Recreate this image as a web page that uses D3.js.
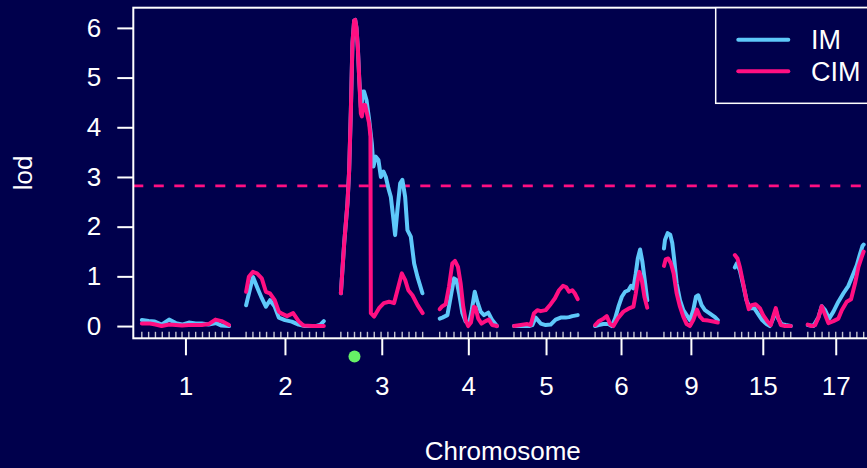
<!DOCTYPE html>
<html>
<head>
<meta charset="utf-8">
<script src="https://cdn.jsdelivr.net/npm/d3@7"></script>
<style>
  html, body { margin: 0; padding: 0; background: #00004c; }
  svg { display: block; }
  text { font-family: "Liberation Sans", Arial, Helvetica, sans-serif; fill: #ffffff; }
</style>
</head>
<body>
<svg id="chart" width="867" height="468"></svg>
<script>
// Genome scan: LOD profiles from interval mapping (IM) and composite interval mapping (CIM)
const chromosomes = ["1", "2", "3", "4", "5", "6", "9", "15", "17"];

// Marker positions (cM) on each chromosome
const markers = {
  "1":  [0, 10, 20, 30, 40, 50, 59, 69, 79, 89, 99, 108, 118, 128],
  "2":  [0, 10, 20, 30, 41, 51, 61, 72, 82, 93, 103, 114],
  "3":  [0, 10, 20, 29, 39, 49, 59, 69, 79, 90, 100, 110, 120],
  "4":  [0, 10, 21, 31, 42, 52, 63, 74, 84],
  "5":  [0, 10, 21, 31, 41, 52, 62, 72, 83, 94],
  "6":  [0, 10, 19, 29, 38, 48, 57, 67, 76],
  "9":  [0, 10, 20, 29, 39, 50, 59, 69, 79],
  "15": [0, 10, 20, 30, 41, 51, 61, 72, 82],
  "17": [0, 10, 21, 31, 41, 51, 62, 72, 82]
};

// IM profile: [position (cM), LOD]
const imLod = {
  "1":  [[0,0.12],[10,0.10],[19,0.09],[29,0.03],[40,0.13],[50,0.06],[59,0.03],[69,0.07],[79,0.05],[88,0.05],[98,0.03],[109,0.06],[117,0.01],[128,0.0]],
  "2":  [[0,0.42],[10,0.99],[18,0.72],[23,0.56],[29,0.39],[35,0.52],[42,0.39],[48,0.17],[57,0.12],[67,0.09],[77,0.03],[86,0.0],[102,0.0],[109,0.03],[114,0.10]],
  "3":  [[0,0.66],[4.9,1.67],[9.7,2.47],[12.2,3.14],[14.7,4.35],[17,5.7],[19.5,6.15],[21,6.16],[22.9,6.0],[24.9,5.6],[26.8,5.02],[29.3,4.4],[30.8,4.5],[32.3,4.72],[34,4.72],[37.6,4.55],[41.5,4.15],[45.4,3.68],[47.8,3.21],[51.2,3.41],[55.1,3.34],[58.7,3.0],[62.5,3.11],[66,3.0],[69.8,2.77],[73.3,2.6],[76.7,2.2],[79.6,1.83],[83,2.34],[87,2.87],[90.3,2.94],[94.3,2.6],[97.7,1.93],[102.6,1.8],[107.5,1.26],[112.4,0.99],[119.7,0.66]],
  "4":  [[0,0.15],[3.9,0.17],[11.3,0.22],[16.2,0.59],[21,0.96],[24.5,0.93],[28.4,0.66],[33.3,0.26],[38,0.09],[43,0.05],[47,0.32],[51.4,0.69],[55.2,0.49],[60.1,0.29],[65,0.22],[71.3,0.27],[77,0.12],[84,0.0]],
  "5":  [[0,0.0],[12,0.0],[22,0.0],[26.9,0.02],[31.8,0.17],[39.2,0.05],[46.5,0.02],[53.8,0.03],[61.1,0.13],[68.5,0.17],[75.8,0.17],[80.7,0.18],[85.6,0.20],[93.5,0.22]],
  "6":  [[0,0.0],[4.9,0.02],[12.2,0.04],[19.5,0.04],[24.5,0.0],[29.3,0.15],[34.2,0.39],[39.2,0.59],[44,0.69],[48.9,0.72],[52.8,0.81],[56.2,0.76],[59.7,1.06],[62.6,1.36],[66,1.54],[69.4,1.29],[73.4,0.86],[76.5,0.52]],
  "9":  [[0,1.56],[1.5,1.73],[5.4,1.87],[9.2,1.84],[12.2,1.67],[15.1,1.33],[18.6,0.86],[23.5,0.52],[28.4,0.32],[33.3,0.22],[38.1,0.12],[43,0.32],[47,0.59],[50.3,0.62],[55.2,0.42],[60.1,0.32],[67.5,0.25],[74.8,0.18],[79,0.12]],
  "15": [[0,1.18],[2.9,1.26],[7.3,1.12],[12.2,0.83],[17.1,0.52],[22,0.36],[28.4,0.36],[34.2,0.24],[40.1,0.12],[46.5,0.04],[51.4,0.0],[56.2,0.15],[60.1,0.32],[63.5,0.15],[68.5,0.04],[74.4,0.02],[82,0.0]],
  "17": [[0,0.02],[8.3,0.0],[15.6,0.18],[20.5,0.40],[25.4,0.32],[31.3,0.15],[37.6,0.29],[44.9,0.49],[52.3,0.66],[59.6,0.81],[67,1.06],[72,1.23],[76.8,1.46],[80.2,1.61],[82,1.64]]
};

// CIM profile: [position (cM), LOD]
const cimLod = {
  "1":  [[0,0.05],[12,0.05],[20,0.03],[29,0.0],[40,0.03],[50,0.02],[59,0.01],[69,0.02],[78,0.02],[88,0.02],[98,0.04],[108,0.13],[117,0.10],[128,0.02]],
  "2":  [[0,0.69],[4,0.99],[10,1.09],[16,1.06],[23,0.96],[29,0.69],[35,0.66],[42,0.52],[48,0.29],[51,0.26],[60,0.20],[69,0.26],[77,0.10],[84,0.01],[97,0.0],[114,0.0]],
  "3":  [[0,0.66],[4.9,1.67],[9.7,2.47],[12.2,3.14],[14.7,4.35],[17,5.7],[19.5,6.15],[21,6.16],[22.9,6.0],[24.9,5.6],[26.8,5.02],[29.3,4.28],[30.8,4.22],[33.2,4.45],[35.6,4.45],[38,4.3],[41.5,4.08],[43.4,3.82],[44,0.26],[48.8,0.19],[56,0.36],[63,0.46],[70.6,0.49],[78,0.46],[83,0.72],[89.4,1.06],[94.3,0.93],[99,0.72],[105,0.62],[112.5,0.42],[120,0.26]],
  "4":  [[0,0.34],[3.9,0.40],[8.8,0.44],[13.6,0.79],[18.5,1.26],[22.4,1.31],[26.8,1.19],[30.7,0.86],[34.5,0.39],[38,0.12],[41.8,0.0],[45.8,0.07],[50.2,0.39],[52.6,0.37],[56.5,0.15],[61.4,0.05],[67.3,0.10],[72.1,0.13],[77,0.02],[84,0.0]],
  "5":  [[0,0.0],[9.8,0.02],[19.5,0.04],[24.5,0.02],[29.3,0.26],[34.2,0.32],[39.2,0.30],[46.5,0.32],[53.8,0.44],[60.1,0.56],[66,0.72],[71.9,0.81],[76.7,0.78],[80.7,0.69],[85.6,0.72],[89.1,0.66],[93.5,0.54]],
  "6":  [[0,0.02],[4.9,0.09],[12.2,0.15],[17.1,0.20],[22,0.04],[26.9,0.0],[34.2,0.17],[41.5,0.29],[48.9,0.35],[56.2,0.39],[59.7,0.66],[62.6,0.93],[65,1.09],[68.5,0.93],[72.3,0.59],[76.5,0.37]],
  "9":  [[0,1.21],[2.5,1.34],[6.3,1.36],[10.3,1.26],[14.2,1.06],[18.6,0.66],[23.5,0.39],[28.4,0.19],[33.3,0.04],[38.1,0.0],[43,0.12],[48.4,0.33],[52.8,0.19],[57.7,0.12],[65,0.11],[72.3,0.09],[79,0.07]],
  "15": [[0,1.43],[3.9,1.36],[7.3,1.19],[12.2,0.86],[17.1,0.52],[20.5,0.34],[24.5,0.42],[30.4,0.44],[36.7,0.36],[41.5,0.22],[48,0.09],[52.8,0.02],[56.2,0.19],[60.1,0.36],[63.5,0.17],[67.5,0.02],[73.4,0.0],[82,0.0]],
  "17": [[0,0.03],[5.9,0.0],[10.7,0.02],[15.6,0.17],[20.5,0.40],[24.4,0.26],[30.2,0.06],[37.6,0.10],[44.9,0.15],[49.9,0.32],[57.2,0.49],[63.5,0.54],[69.4,0.86],[74.3,1.19],[79.2,1.39],[82,1.50]]
};

const threshold = 2.82;                 // genome-wide significance level
const yTicks = [0, 1, 2, 3, 4, 5, 6];
const peakMarker = { chr: "3", pos: 20 }; // highlighted QTL location
const seriesNames = ["IM", "CIM"];
const seriesColors = ["#5ec8fa", "#ff0f82"];

// ---- layout ----
const width = 867, height = 468;
const plot = { left: 133.3, top: 7.7, right: 872.2, bottom: 338.3 };
const gap = 25;

// cumulative offset of each chromosome along the genome axis
const chrLen = chromosomes.map(c => d3.max(markers[c]));
const offsets = {};
let acc = 0;
chromosomes.forEach((c, i) => { offsets[c] = acc; acc += chrLen[i] + gap; });
const genomeEnd = acc - gap;

const x = d3.scaleLinear()
  .domain([-gap / 2, genomeEnd + gap / 2])
  .range([plot.left, plot.right]);

const lodMax = d3.max([...Object.values(imLod), ...Object.values(cimLod)].flat(), d => d[1]);
const pad = lodMax * 0.04;
const y = d3.scaleLinear()
  .domain([-pad, lodMax + pad])
  .range([plot.bottom, plot.top]);

const svg = d3.select("#chart");
svg.append("rect").attr("width", width).attr("height", height).attr("fill", "#00004c");

// threshold line
svg.append("line")
  .attr("x1", plot.left).attr("x2", plot.right)
  .attr("y1", y(threshold)).attr("y2", y(threshold))
  .attr("stroke", seriesColors[1]).attr("stroke-width", 2.6)
  .attr("stroke-dasharray", "10,10.5");

// LOD curves, one path per chromosome; CIM drawn over IM
const line = d3.line();
[imLod, cimLod].forEach((series, si) => {
  svg.append("g").selectAll("path")
    .data(chromosomes)
    .join("path")
    .attr("d", c => line(series[c].map(d => [x(offsets[c] + d[0]), y(d[1])])))
    .attr("fill", "none")
    .attr("stroke", seriesColors[si])
    .attr("stroke-width", 4)
    .attr("stroke-linejoin", "round")
    .attr("stroke-linecap", "round");
});

// marker rug along the bottom of the panel
svg.append("g").selectAll("line")
  .data(chromosomes.flatMap(c => markers[c].map(p => offsets[c] + p)))
  .join("line")
  .attr("x1", d => x(d)).attr("x2", d => x(d))
  .attr("y1", plot.bottom).attr("y2", plot.bottom - 6.5)
  .attr("stroke", "#c4c4d0").attr("stroke-width", 1.4);

// frame
svg.append("rect")
  .attr("x", plot.left).attr("y", plot.top)
  .attr("width", plot.right - plot.left).attr("height", plot.bottom - plot.top)
  .attr("fill", "none").attr("stroke", "#ffffff").attr("stroke-width", 2);

// y axis
const yAxis = svg.append("g")
  .attr("transform", `translate(${plot.left},0)`)
  .call(d3.axisLeft(y).tickValues(yTicks).tickFormat(d3.format("d")).tickSize(16).tickPadding(16));
yAxis.select(".domain").remove();
yAxis.selectAll(".tick line").attr("stroke", "#ffffff").attr("stroke-width", 2);
yAxis.selectAll(".tick text").attr("font-size", 26).attr("fill", "#ffffff")
  .style("font-family", '"Liberation Sans", Arial, sans-serif');

// x axis: one tick per chromosome at its midpoint
const mids = chromosomes.map((c, i) => offsets[c] + chrLen[i] / 2);
const xAxis = svg.append("g")
  .attr("transform", `translate(0,${plot.bottom})`)
  .call(d3.axisBottom(x).tickValues(mids).tickFormat((d, i) => chromosomes[i]).tickSize(17).tickPadding(21));
xAxis.select(".domain").remove();
xAxis.selectAll(".tick line").attr("stroke", "#ffffff").attr("stroke-width", 2);
xAxis.selectAll(".tick text").attr("font-size", 26).attr("fill", "#ffffff")
  .style("font-family", '"Liberation Sans", Arial, sans-serif');

// highlighted QTL position
svg.append("circle")
  .attr("cx", x(offsets[peakMarker.chr] + peakMarker.pos))
  .attr("cy", 356.5)
  .attr("r", 6)
  .attr("fill", "#66f066");

// axis titles
svg.append("text")
  .attr("x", (plot.left + plot.right) / 2).attr("y", 460)
  .attr("text-anchor", "middle").attr("font-size", 26)
  .text("Chromosome");
svg.append("text")
  .attr("transform", `translate(32,${(plot.top + plot.bottom) / 2}) rotate(-90)`)
  .attr("text-anchor", "middle").attr("font-size", 26)
  .text("lod");

// legend
const legend = svg.append("g");
legend.append("rect")
  .attr("x", 715.7).attr("y", plot.top)
  .attr("width", plot.right - 715.7).attr("height", 95.6)
  .attr("fill", "#00004c").attr("stroke", "#ffffff").attr("stroke-width", 1.5);
seriesNames.forEach((name, i) => {
  const ly = 39.7 + i * 31.6;
  legend.append("line")
    .attr("x1", 738.3).attr("x2", 788.3).attr("y1", ly).attr("y2", ly)
    .attr("stroke", seriesColors[i]).attr("stroke-width", 4).attr("stroke-linecap", "round");
  legend.append("text")
    .attr("x", 811).attr("y", ly).attr("dy", "0.36em")
    .attr("font-size", 27)
    .text(name);
});
</script>
</body>
</html>
